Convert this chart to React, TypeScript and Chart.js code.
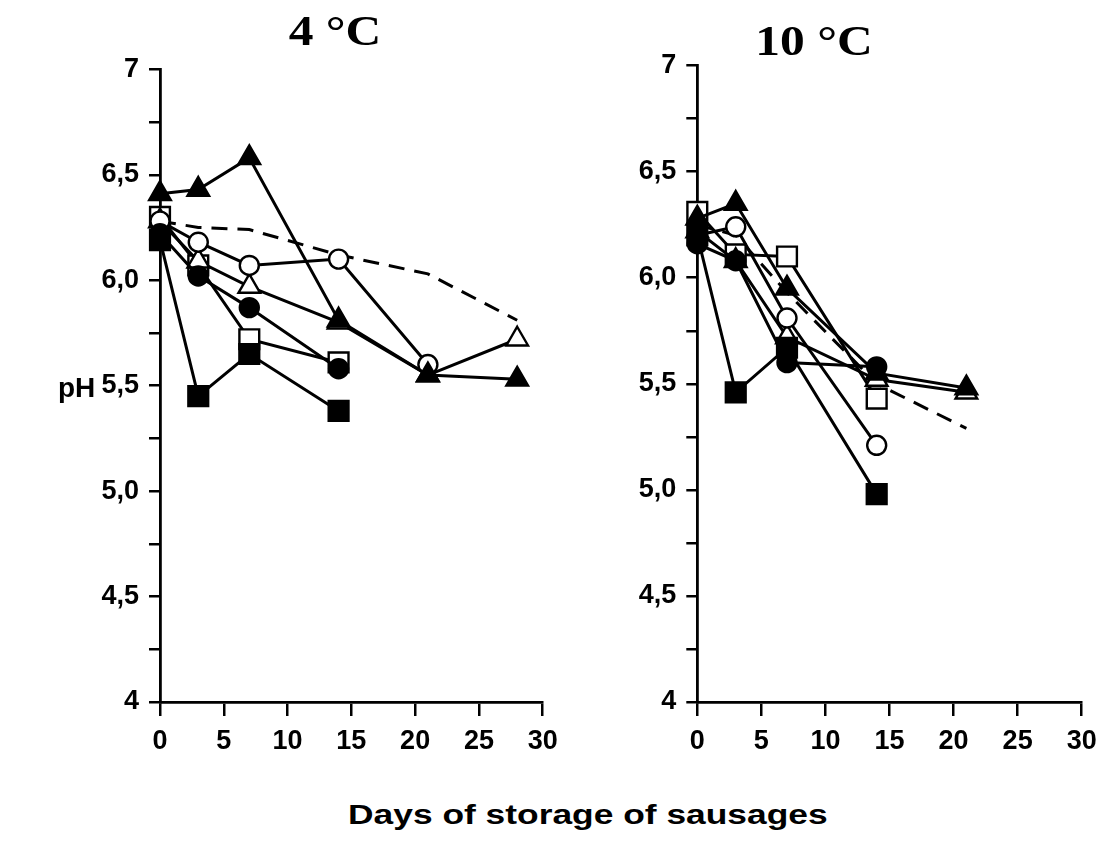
import React, { useEffect, useRef } from 'react';
import { Chart, registerables } from 'chart.js';

Chart.register(...registerables);

// ---------- Axis ticks ----------
const xTickStep = 5;
const xMin = 0;
const xMax = 30;
const yTickValues = [4, 4.5, 5, 5.5, 6, 6.5, 7];
const yTickLabels = ['4', '4,5', '5,0', '5,5', '6,0', '6,5', '7'];

// ---------- 4 °C ----------
const ftDays4 = [0, 3, 7, 14, 21, 28];
const ftPH4 = [6.41, 6.43, 6.58, 5.81, 5.55, 5.53];
const otDays4 = [0, 3, 7, 14, 21, 28];
const otPH4 = [6.28, 6.09, 5.97, 5.8, 5.55, 5.72];
const fcDays4 = [0, 3, 7, 14];
const fcPH4 = [6.22, 6.02, 5.87, 5.58];
const ocDays4 = [0, 3, 7, 14, 21];
const ocPH4 = [6.28, 6.18, 6.07, 6.1, 5.6];
const fsDays4 = [0, 3, 7, 14];
const fsPH4 = [6.19, 5.45, 5.65, 5.38];
const osDays4 = [0, 3, 7, 14];
const osPH4 = [6.3, 6.07, 5.72, 5.61];
const dashDays4 = [0, 3, 7, 14, 21, 28];
const dashPH4 = [6.28, 6.25, 6.24, 6.12, 6.03, 5.81];

// ---------- 10 °C ----------
const ftDays10 = [0, 3, 7, 14, 21];
const ftPH10 = [6.28, 6.35, 5.95, 5.55, 5.48];
const otDays10 = [0, 3, 7, 14, 21];
const otPH10 = [6.22, 6.08, 5.72, 5.52, 5.46];
const fcDays10 = [0, 3, 7, 14];
const fcPH10 = [6.16, 6.08, 5.6, 5.58];
const ocDays10 = [0, 3, 7, 14];
const ocPH10 = [6.2, 6.24, 5.81, 5.21];
const fsDays10 = [0, 3, 7, 14];
const fsPH10 = [6.2, 5.46, 5.67, 4.98];
const osDays10 = [0, 3, 7, 14];
const osPH10 = [6.31, 6.11, 6.1, 5.43];
const dashDays10 = [0, 3, 7, 14, 21];
const dashPH10 = [6.25, 6.2, 5.93, 5.5, 5.29];

type Style = { pointStyle: string | false; filled: boolean; radius: number; dashed?: boolean };

const STYLE_FT: Style = { pointStyle: 'triangle', filled: true, radius: 12.5 };
const STYLE_OT: Style = { pointStyle: 'triangle', filled: false, radius: 12.5 };
const STYLE_FC: Style = { pointStyle: 'circle', filled: true, radius: 9.5 };
const STYLE_OC: Style = { pointStyle: 'circle', filled: false, radius: 9.5 };
const STYLE_FS: Style = { pointStyle: 'rect', filled: true, radius: 14 };
const STYLE_OS: Style = { pointStyle: 'rect', filled: false, radius: 14 };
const STYLE_DASH: Style = { pointStyle: false, filled: false, radius: 0, dashed: true };

function makeDataset(label: string, days: number[], ph: number[], st: Style) {
  return {
    label,
    data: days.map((d, i) => ({ x: d, y: ph[i] })),
    borderColor: '#000',
    borderWidth: 3,
    borderDash: st.dashed ? [16, 10] : [],
    tension: 0,
    fill: false,
    clip: false,
    pointStyle: st.pointStyle === false ? 'circle' : st.pointStyle,
    pointRadius: st.radius,
    pointHoverRadius: st.radius,
    pointBorderColor: '#000',
    pointBorderWidth: 2.4,
    pointBackgroundColor: st.filled ? '#000' : '#fff',
  };
}

const datasets4 = () => [
  makeDataset('ft', ftDays4, ftPH4, STYLE_FT),
  makeDataset('fs', fsDays4, fsPH4, STYLE_FS),
  makeDataset('fc', fcDays4, fcPH4, STYLE_FC),
  makeDataset('oc', ocDays4, ocPH4, STYLE_OC),
  makeDataset('ot', otDays4, otPH4, STYLE_OT),
  makeDataset('os', osDays4, osPH4, STYLE_OS),
  makeDataset('dash', dashDays4, dashPH4, STYLE_DASH),
];

const datasets10 = () => [
  makeDataset('ft', ftDays10, ftPH10, STYLE_FT),
  makeDataset('fs', fsDays10, fsPH10, STYLE_FS),
  makeDataset('fc', fcDays10, fcPH10, STYLE_FC),
  makeDataset('oc', ocDays10, ocPH10, STYLE_OC),
  makeDataset('ot', otDays10, otPH10, STYLE_OT),
  makeDataset('os', osDays10, osPH10, STYLE_OS),
  makeDataset('dash', dashDays10, dashPH10, STYLE_DASH),
];

const SANS = '"Liberation Sans", Arial, Helvetica, sans-serif';
const SERIF = '"Liberation Serif", "Times New Roman", serif';

type PanelProps = {
  left: number;
  width: number;
  height: number;
  yAxisWidth: number;
  padTop: number;
  padRight: number;
  plotBottom: number;
  makeData: () => any[];
};

const X_AXIS_H = 60;

function Panel(props: PanelProps) {
  const ref = useRef<HTMLCanvasElement | null>(null);
  useEffect(() => {
    if (!ref.current) return;
    const chart = new Chart(ref.current, {
      type: 'line',
      data: { datasets: props.makeData() as any },
      options: {
        animation: false,
        responsive: false,
        maintainAspectRatio: false,
        devicePixelRatio: 1,
        layout: {
          autoPadding: false,
          padding: {
            left: 0,
            top: props.padTop,
            right: props.padRight,
            bottom: props.height - props.plotBottom - X_AXIS_H,
          },
        } as any,
        plugins: {
          legend: { display: false },
          tooltip: { enabled: false },
          title: { display: false },
        },
        scales: {
          x: {
            type: 'linear',
            min: xMin,
            max: xMax,
            offset: false,
            ticks: {
              stepSize: xTickStep,
              autoSkip: false,
              maxRotation: 0,
              color: '#000',
              padding: 9,
              font: { family: SANS, size: 27, weight: 'bold' },
              callback: (v: any) => String(v),
            },
            grid: {
              display: true,
              drawOnChartArea: false,
              drawTicks: true,
              tickLength: 14,
              color: '#000',
              lineWidth: 2.5,
            },
            border: { display: true, color: '#000', width: 2.8 },
            afterFit: (s: any) => {
              s.height = X_AXIS_H;
            },
          },
          y: {
            type: 'linear',
            min: 4,
            max: 7,
            ticks: {
              stepSize: 0.25,
              autoSkip: false,
              color: '#000',
              padding: 10,
              font: { family: SANS, size: 27, weight: 'bold' },
              callback: (v: any) => {
                const idx = yTickValues.findIndex((t) => Math.abs(t - Number(v)) < 1e-6);
                return idx >= 0 ? yTickLabels[idx] : '';
              },
            },
            grid: {
              display: true,
              drawOnChartArea: false,
              drawTicks: true,
              tickLength: 11,
              color: '#000',
              lineWidth: 2.5,
            },
            border: { display: true, color: '#000', width: 2.8 },
            afterFit: (s: any) => {
              s.width = props.yAxisWidth;
            },
          },
        },
      } as any,
    });
    return () => chart.destroy();
  }, []);
  return (
    <canvas
      ref={ref}
      width={props.width}
      height={props.height}
      style={{ position: 'absolute', left: props.left, top: 0, width: props.width, height: props.height }}
    />
  );
}

export default function App() {
  return (
    <div style={{ position: 'absolute', left: 0, top: 0, width: 1103, height: 842, background: '#fff', overflow: 'hidden' }}>
      <Panel
        left={0}
        width={568}
        height={790}
        yAxisWidth={160}
        padTop={69.3}
        padRight={25.3}
        plotBottom={702}
        makeData={datasets4}
      />
      <Panel
        left={560}
        width={547}
        height={790}
        yAxisWidth={137.3}
        padTop={65.6}
        padRight={25.3}
        plotBottom={702}
        makeData={datasets10}
      />
      <div
        style={{
          position: 'absolute', left: 235, top: 9, width: 200, textAlign: 'center',
          fontFamily: SERIF, fontWeight: 'bold', fontSize: 43, lineHeight: '43px', color: '#000',
          transform: 'scaleX(1.15)', transformOrigin: 'center top',
        }}
      >
        4 °C
      </div>
      <div
        style={{
          position: 'absolute', left: 714, top: 19, width: 200, textAlign: 'center',
          fontFamily: SERIF, fontWeight: 'bold', fontSize: 43, lineHeight: '43px', color: '#000',
          transform: 'scaleX(1.15)', transformOrigin: 'center top',
        }}
      >
        10 °C
      </div>
      <div
        style={{
          position: 'absolute', left: 58, top: 374, fontFamily: SANS, fontWeight: 'bold',
          fontSize: 28, lineHeight: '28px', color: '#000',
        }}
      >
        pH
      </div>
      <div
        style={{
          position: 'absolute', left: 348, top: 802, fontFamily: SANS, fontWeight: 'bold',
          fontSize: 27, lineHeight: '27px', color: '#000', whiteSpace: 'nowrap',
          transform: 'scaleX(1.31)', transformOrigin: 'left top',
        }}
      >
        Days of storage of sausages
      </div>
    </div>
  );
}
